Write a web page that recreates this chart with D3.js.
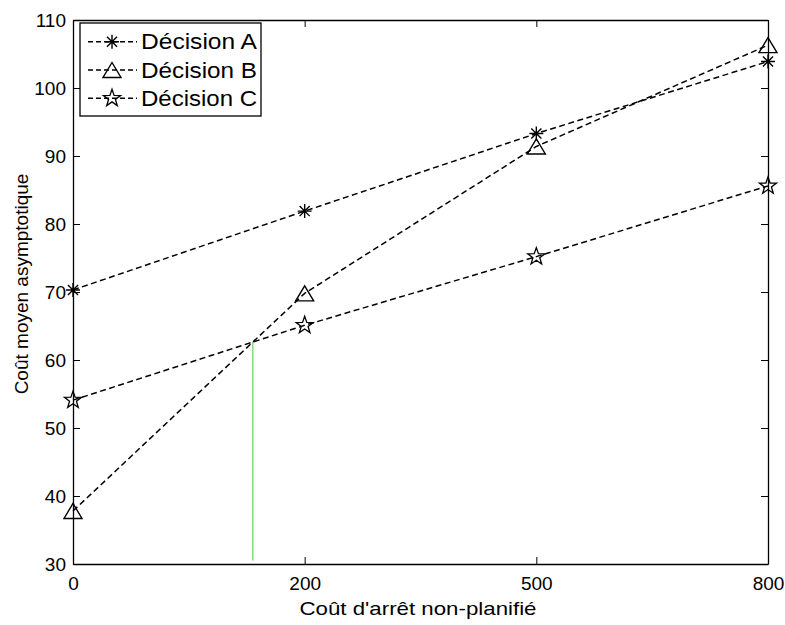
<!DOCTYPE html>
<html>
<head>
<meta charset="utf-8">
<script src="https://cdn.jsdelivr.net/npm/d3@7"></script>
<style>
  html, body { margin: 0; padding: 0; background: #fff; }
  text { font-family: Arial, "Liberation Sans", sans-serif; fill: #000; }
</style>
</head>
<body>
<svg id="chart" width="785" height="625"></svg>
<script>
// ---- data ----
const categories = ["0", "200", "500", "800"];
const seriesNames = ["Décision A", "Décision B", "Décision C"];
const decisionA = [70.3, 81.9, 93.3, 103.9];
const decisionB = [37.8, 69.8, 91.4, 106.3];
const decisionC = [54.1, 65.1, 75.2, 85.6];
const yTicks = [30, 40, 50, 60, 70, 80, 90, 100, 110];
const xLabel = "Coût d'arrêt non-planifié";
const yLabel = "Coût moyen asymptotique";

const series = [
  { name: seriesNames[0], values: decisionA, marker: "asterisk" },
  { name: seriesNames[1], values: decisionB, marker: "triangle" },
  { name: seriesNames[2], values: decisionC, marker: "star" }
];

// ---- layout ----
const pLeft = 73, pRight = 768, pTop = 20, pBottom = 564;
const svg = d3.select("#chart");

const x = d3.scaleLinear().domain([0, categories.length - 1]).range([pLeft, pRight]);
const y = d3.scaleLinear().domain([30, 110]).range([pBottom, pTop]);

// axes (MATLAB-like box with inward ticks)
const tickLen = 7;
const gBottom = svg.append("g").attr("transform", `translate(0,${pBottom})`)
  .call(d3.axisBottom(x).tickValues(d3.range(categories.length))
    .tickFormat(i => categories[i]).tickSizeInner(-tickLen).tickSizeOuter(0).tickPadding(13));
const gTop = svg.append("g").attr("transform", `translate(0,${pTop})`)
  .call(d3.axisTop(x).tickValues(d3.range(categories.length))
    .tickFormat("").tickSizeInner(-tickLen).tickSizeOuter(0));
const gLeft = svg.append("g").attr("transform", `translate(${pLeft},0)`)
  .call(d3.axisLeft(y).tickValues(yTicks).tickSizeInner(-tickLen).tickSizeOuter(0).tickPadding(7));
const gRight = svg.append("g").attr("transform", `translate(${pRight},0)`)
  .call(d3.axisRight(y).tickValues(yTicks).tickFormat("").tickSizeInner(-tickLen).tickSizeOuter(0));

[gBottom, gTop, gLeft, gRight].forEach(g => {
  g.select(".domain").attr("stroke", "#000").attr("stroke-width", 1.3);
  g.selectAll(".tick line").attr("stroke", "#000").attr("stroke-width", 1);
  g.selectAll(".tick text").attr("font-size", 19).attr("font-family", "Arial, 'Liberation Sans', sans-serif").attr("fill", "#000");
});

// axis titles
svg.append("text")
  .attr("x", 418).attr("y", 615)
  .attr("text-anchor", "middle").attr("font-size", 19)
  .attr("textLength", 237).attr("lengthAdjust", "spacingAndGlyphs")
  .text(xLabel);
svg.append("text")
  .attr("transform", `translate(28,${(pTop + pBottom) / 2 - 8}) rotate(-90)`)
  .attr("text-anchor", "middle").attr("font-size", 19)
  .text(yLabel);

// green vertical line at intersection of B and C (between first two categories)
const b0 = decisionB[0], b1 = decisionB[1], c0 = decisionC[0], c1 = decisionC[1];
const tInt = (c0 - b0) / ((b1 - b0) - (c1 - c0));
const yInt = c0 + tInt * (c1 - c0);
svg.append("line")
  .attr("x1", x(tInt)).attr("x2", x(tInt))
  .attr("y1", y(30.5)).attr("y2", y(yInt))
  .attr("stroke", "#6fd66f").attr("stroke-width", 1.3);

// marker drawing
function drawMarker(g, type, cx, cy) {
  if (type === "asterisk") {
    const r = 7, d = r * 0.72;
    g.append("path")
      .attr("d", `M${cx - r},${cy}L${cx + r},${cy}M${cx},${cy - r}L${cx},${cy + r}` +
                 `M${cx - d},${cy - d}L${cx + d},${cy + d}M${cx - d},${cy + d}L${cx + d},${cy - d}`)
      .attr("stroke", "#000").attr("stroke-width", 1.4).attr("fill", "none");
  } else if (type === "triangle") {
    const w = 9, h = 7.5;
    g.append("path")
      .attr("d", `M${cx},${cy - h}L${cx + w},${cy + h}L${cx - w},${cy + h}Z`)
      .attr("stroke", "#000").attr("stroke-width", 1.4).attr("fill", "none");
  } else {
    const R = 9, rIn = R * 0.4;
    const pts = d3.range(10).map(k => {
      const ang = -Math.PI / 2 + k * Math.PI / 5;
      const rr = k % 2 === 0 ? R : rIn;
      return [cx + rr * Math.cos(ang), cy + rr * Math.sin(ang)];
    });
    g.append("path")
      .attr("d", "M" + pts.map(p => p.join(",")).join("L") + "Z")
      .attr("stroke", "#000").attr("stroke-width", 1.3).attr("fill", "none");
  }
}

// series lines
const line = d3.line().x((d, i) => x(i)).y(d => y(d));
series.forEach(s => {
  svg.append("path")
    .datum(s.values)
    .attr("d", line)
    .attr("fill", "none").attr("stroke", "#000")
    .attr("stroke-width", 1.5).attr("stroke-dasharray", "6,3.5");
  const g = svg.append("g");
  s.values.forEach((v, i) => drawMarker(g, s.marker, x(i), y(v)));
});

// legend
const lg = svg.append("g");
lg.append("rect").attr("x", 80).attr("y", 23).attr("width", 181).attr("height", 93)
  .attr("fill", "#fff").attr("stroke", "#000").attr("stroke-width", 1.3);
series.forEach((s, i) => {
  const ly = 41.7 + i * 28.3;
  lg.append("line").attr("x1", 88).attr("x2", 137).attr("y1", ly).attr("y2", ly)
    .attr("stroke", "#000").attr("stroke-width", 1.4).attr("stroke-dasharray", "5,3");
  drawMarker(lg, s.marker, 112, ly);
  lg.append("text").attr("x", 141).attr("y", ly + 7.5)
    .attr("font-size", 21.5)
    .attr("textLength", 116).attr("lengthAdjust", "spacingAndGlyphs")
    .text(s.name);
});
</script>
</body>
</html>
